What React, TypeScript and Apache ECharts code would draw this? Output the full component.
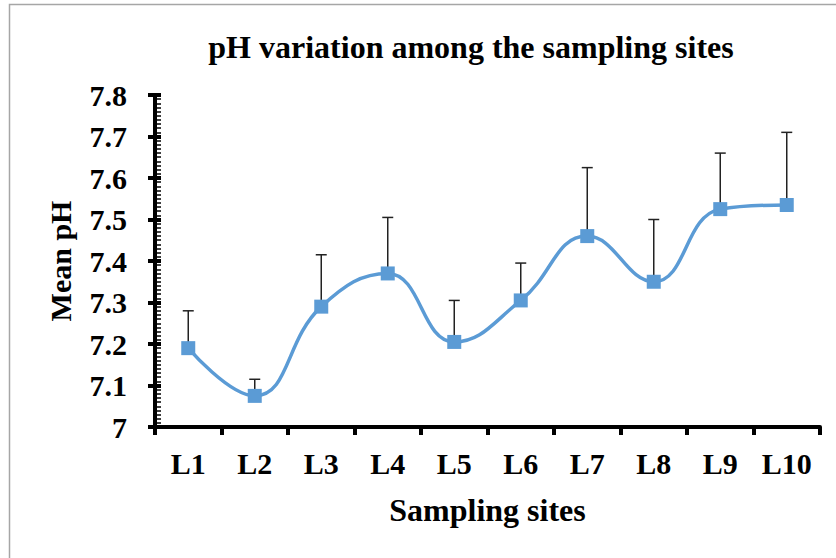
import React, { useEffect, useRef } from "react";
import * as echarts from "echarts";

const sites = ["L1", "L2", "L3", "L4", "L5", "L6", "L7", "L8", "L9", "L10"];
const meanPH = [7.19, 7.075, 7.29, 7.37, 7.205, 7.305, 7.46, 7.35, 7.525, 7.535];
const errPlus = [0.09, 0.04, 0.125, 0.135, 0.1, 0.09, 0.165, 0.15, 0.135, 0.175];
const yMin = 7;
const yMax = 7.8;
const yStep = 0.1;

const FONT = "'Liberation Serif', 'Times New Roman', serif";
const BLUE = "#5b9bd5";

export default function App() {
  const ref = useRef<HTMLDivElement>(null);
  useEffect(() => {
    if (!ref.current) return;
    const chart = echarts.init(ref.current, null, { renderer: "svg" });
    const errData = sites.map((_, i) => [i, meanPH[i], errPlus[i]]);
    const baseY = {
      type: "value",
      min: yMin,
      max: yMax,
      interval: yStep,
      position: "left",
      splitLine: { show: false },
    };
    chart.setOption({
      animation: false,
      backgroundColor: "#ffffff",
      graphic: [
        {
          type: "rect",
          shape: { x: 9.5, y: 4.5, width: 900, height: 700 },
          style: { fill: "none", stroke: "#a6a6a6", lineWidth: 1.5 },
          silent: true,
          z: -10,
        },
      ],
      title: {
        text: "pH variation among the sampling sites",
        left: 466,
        top: 26,
        textAlign: "center",
        textStyle: { fontFamily: FONT, fontWeight: "bold", fontSize: 32, color: "#000" },
      },
      grid: { left: 155, right: 16, top: 95, bottom: 131, containLabel: false },
      xAxis: {
        type: "category",
        data: sites,
        boundaryGap: true,
        name: "Sampling sites",
        nameLocation: "middle",
        nameGap: 67,
        nameTextStyle: { fontFamily: FONT, fontWeight: "bold", fontSize: 32, color: "#000" },
        axisLine: { lineStyle: { color: "#000", width: 4 } },
        axisTick: { show: true, inside: false, length: 8, lineStyle: { color: "#000", width: 4 } },
        axisLabel: { fontFamily: FONT, fontWeight: "bold", fontSize: 30, color: "#000", margin: 21 },
        splitLine: { show: false },
      },
      yAxis: [
        {
          ...baseY,
          name: "Mean pH",
          nameLocation: "middle",
          nameGap: 80,
          nameRotate: 90,
          nameTextStyle: { fontFamily: FONT, fontWeight: "bold", fontSize: 30, color: "#000" },
          axisLine: { show: true, lineStyle: { color: "#000", width: 4 } },
          axisTick: { show: true, inside: false, length: 7, lineStyle: { color: "#000", width: 4 } },
          axisLabel: { fontFamily: FONT, fontWeight: "bold", fontSize: 30, color: "#000", margin: 28 },
        },
        {
          ...baseY,
          axisLine: { show: false },
          axisLabel: { show: false },
          axisTick: { show: true, inside: true, length: 6, lineStyle: { color: "#000", width: 4 } },
          minorTick: { show: true, splitNumber: 10, length: 6, lineStyle: { color: "#000", width: 1.5 } },
          minorSplitLine: { show: false },
        },
      ],
      series: [
        {
          type: "custom",
          yAxisIndex: 0,
          z: 1,
          data: errData,
          renderItem: (params: any, api: any) => {
            const i = api.value(0);
            const v = api.value(1);
            const e = api.value(2);
            const p0 = api.coord([i, v]);
            const p1 = api.coord([i, v + e]);
            const half = 5.5;
            const style = { stroke: "#222", lineWidth: 1.5 };
            return {
              type: "group",
              children: [
                { type: "line", shape: { x1: p0[0], y1: p0[1], x2: p1[0], y2: p1[1] }, style },
                { type: "line", shape: { x1: p1[0] - half, y1: p1[1], x2: p1[0] + half, y2: p1[1] }, style },
              ],
            };
          },
        },
        {
          type: "line",
          yAxisIndex: 0,
          z: 3,
          data: meanPH,
          smooth: 0.45,
          symbol: "rect",
          symbolSize: 14,
          lineStyle: { color: BLUE, width: 3.5 },
          itemStyle: { color: BLUE },
        },
      ],
    });
    return () => chart.dispose();
  }, []);
  return (
    <div
      ref={ref}
      style={{ position: "fixed", left: 0, top: 0, width: 836, height: 558, background: "#fff" }}
    />
  );
}
